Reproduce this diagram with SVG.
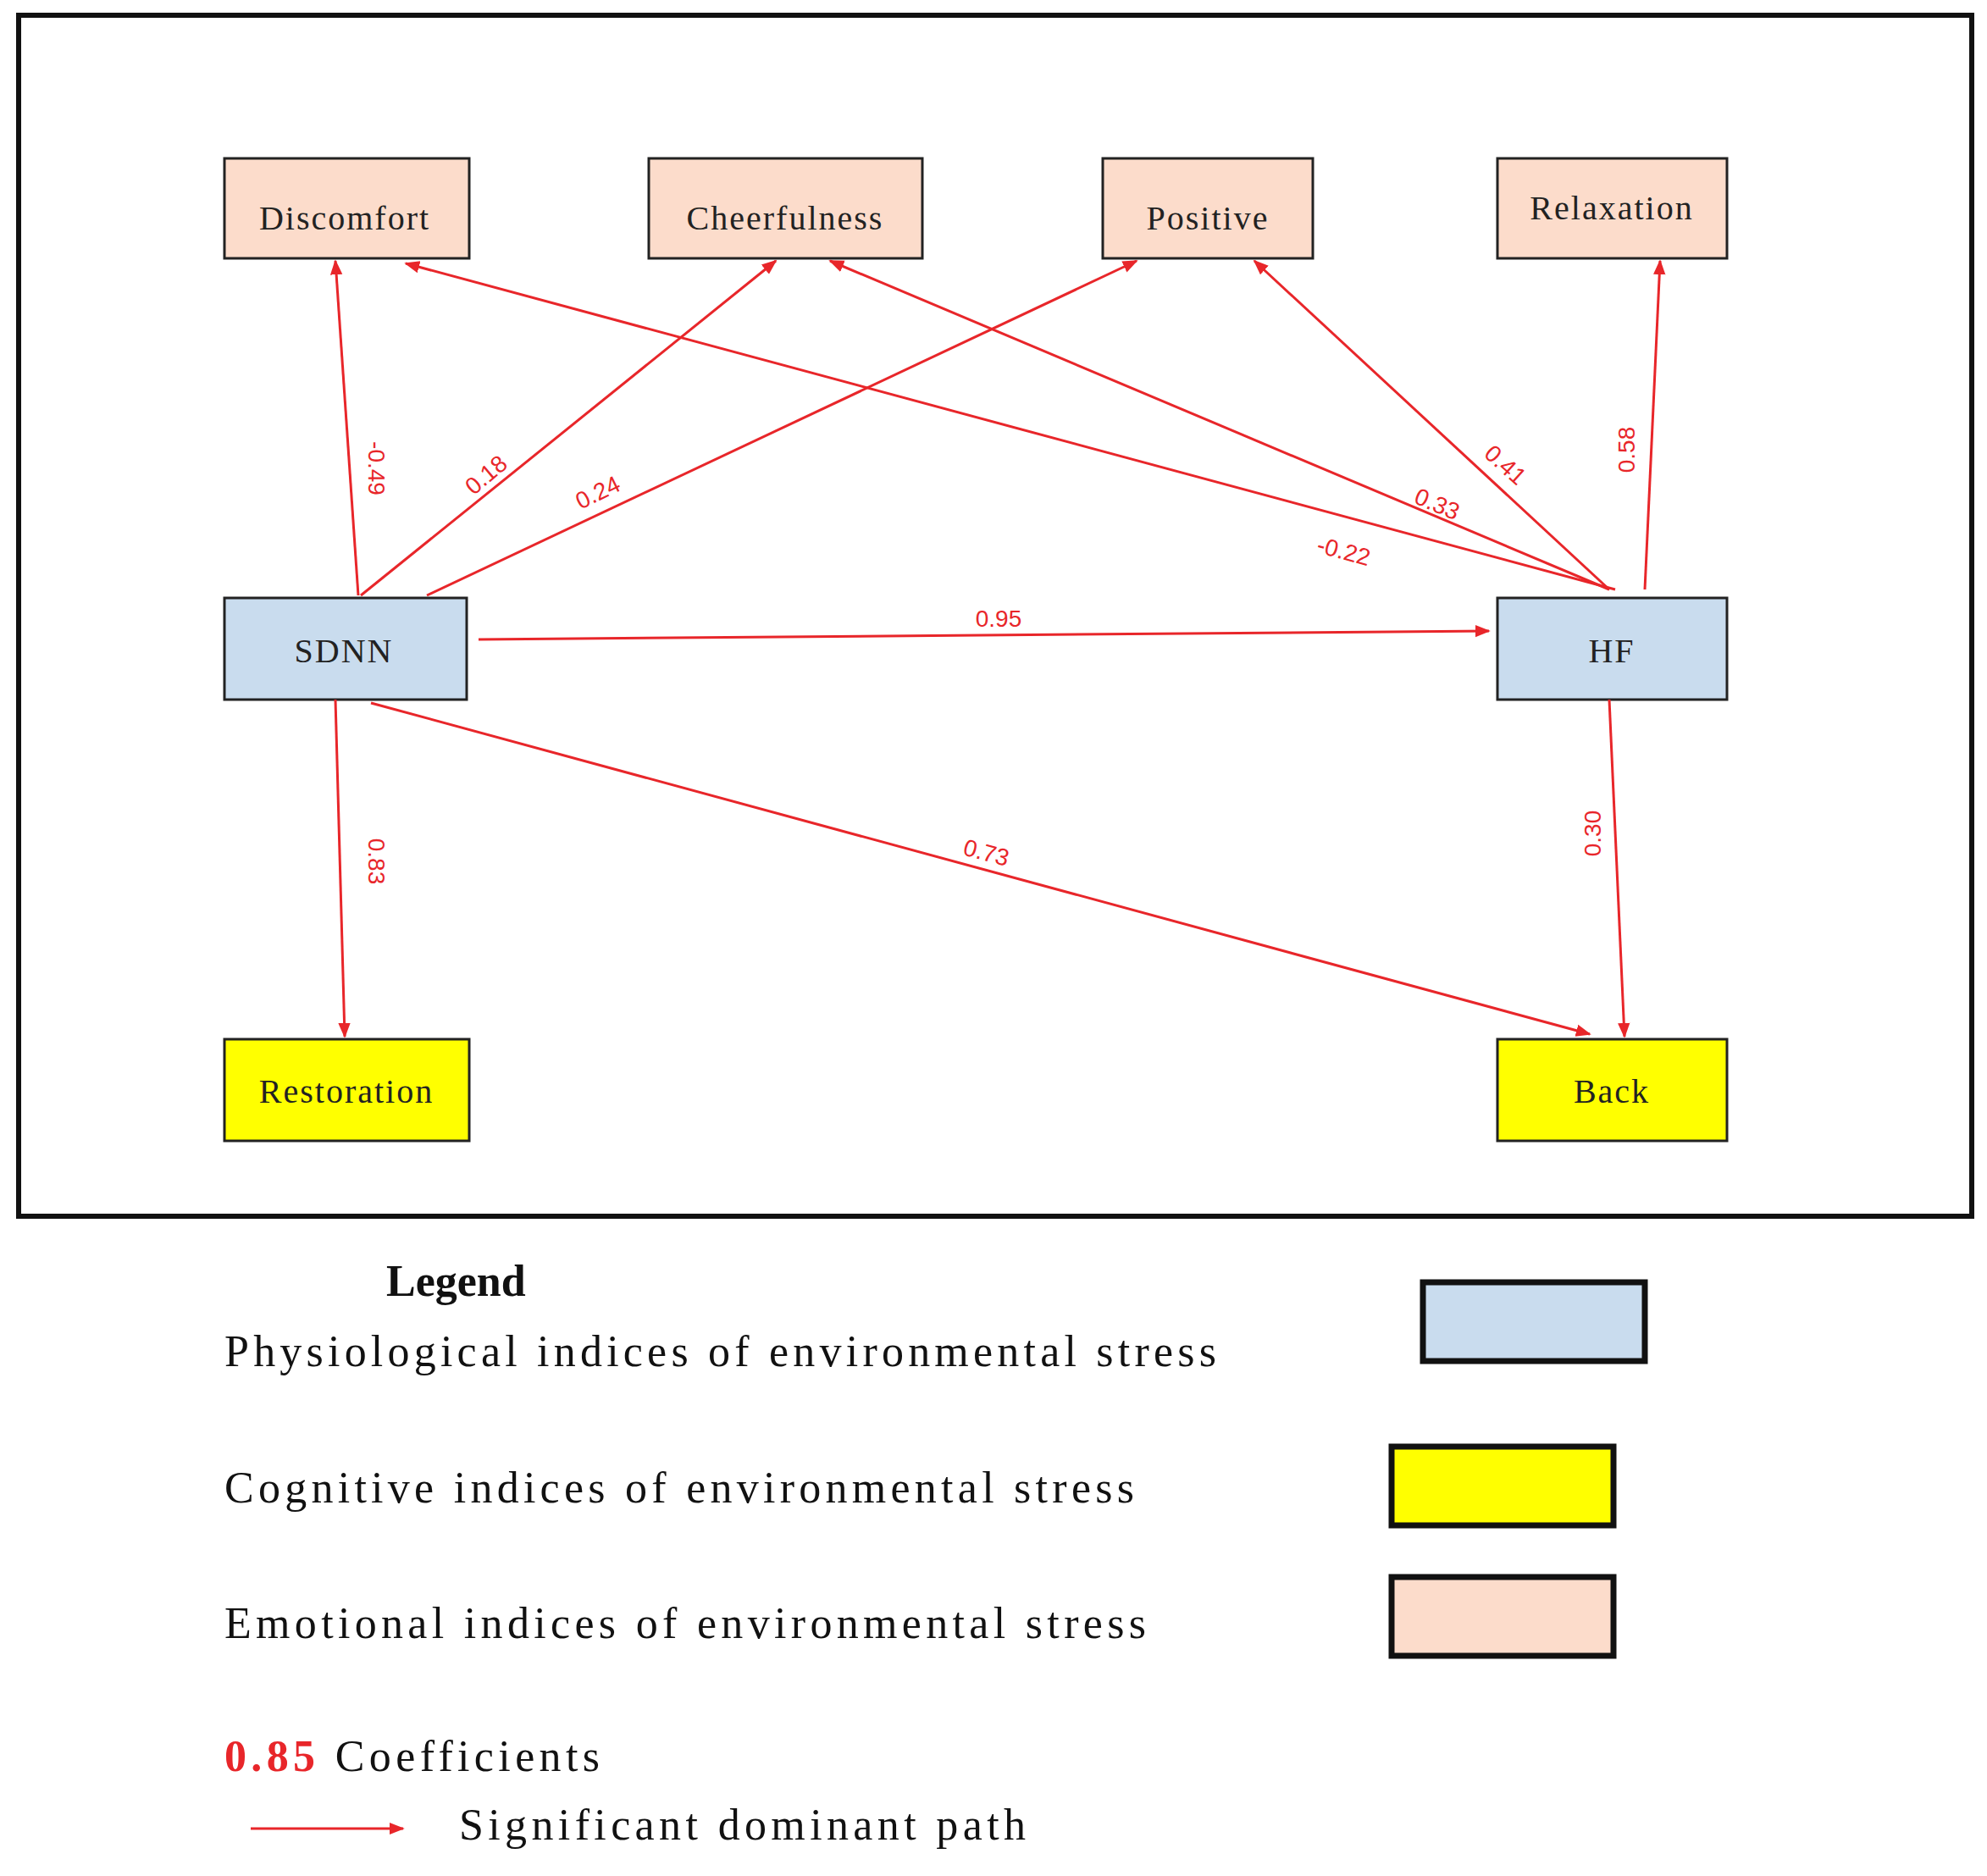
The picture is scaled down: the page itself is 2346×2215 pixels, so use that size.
<svg xmlns="http://www.w3.org/2000/svg" width="2346" height="2215" viewBox="0 0 2346 2215">
<style>
.n{stroke:#222;stroke-width:3}
.e{fill:#fcdccb}.p{fill:#c9dcee}.c{fill:#ffff00}
.nt{font-family:"Liberation Serif",serif;font-size:40px;fill:#222;text-anchor:middle;letter-spacing:2px}
.l{stroke:#e8262a;stroke-width:3;fill:none;marker-end:url(#a)}
.lb{font-family:"Liberation Sans",sans-serif;font-size:28px;fill:#e8262a;text-anchor:middle}
.lg{font-family:"Liberation Serif",serif;font-size:52px;fill:#111}
.lbx{stroke:#111;stroke-width:7}
</style>
<defs><marker id="a" viewBox="0 0 10 10" refX="9" refY="5" markerWidth="6" markerHeight="6" orient="auto" markerUnits="strokeWidth"><path d="M0,1 L10,5 L0,9 z" fill="#e8262a"/></marker></defs>
<rect width="2346" height="2215" fill="#fff"/>
<rect x="22" y="18" width="2306" height="1418" fill="none" stroke="#111" stroke-width="6"/>
<g id="discomfort"><rect class="n e" x="265" y="187" width="289" height="118"/><text class="nt" x="407" y="271">Discomfort</text></g>
<g id="cheerfulness"><rect class="n e" x="766" y="187" width="323" height="118"/><text class="nt" x="927" y="271">Cheerfulness</text></g>
<g id="positive"><rect class="n e" x="1302" y="187" width="248" height="118"/><text class="nt" x="1426" y="271">Positive</text></g>
<g id="relaxation"><rect class="n e" x="1768" y="187" width="271" height="118"/><text class="nt" x="1903" y="259">Relaxation</text></g>
<g id="sdnn"><rect class="n p" x="265" y="706" width="286" height="120"/><text class="nt" x="406" y="782">SDNN</text></g>
<g id="hf"><rect class="n p" x="1768" y="706" width="271" height="120"/><text class="nt" x="1903" y="782">HF</text></g>
<g id="restoration"><rect class="n c" x="265" y="1227" width="289" height="120"/><text class="nt" x="409" y="1302">Restoration</text></g>
<g id="back"><rect class="n c" x="1768" y="1227" width="271" height="120"/><text class="nt" x="1903" y="1302">Back</text></g>
<g id="connectors">
<line class="l" x1="423" y1="703" x2="396" y2="308"/>
<line class="l" x1="426" y1="703" x2="916" y2="308"/>
<line class="l" x1="504" y1="703" x2="1342" y2="308"/>
<line class="l" x1="1907" y1="696" x2="479" y2="311"/>
<line class="l" x1="1900" y1="696" x2="980" y2="308"/>
<line class="l" x1="1900" y1="696" x2="1481" y2="308"/>
<line class="l" x1="1942" y1="696" x2="1960" y2="308"/>
<line class="l" x1="565" y1="755" x2="1758" y2="745"/>
<line class="l" x1="396" y1="826" x2="407" y2="1224"/>
<line class="l" x1="438" y1="830" x2="1877" y2="1221"/>
<line class="l" x1="1900" y1="826" x2="1918" y2="1224"/>
<text class="lb" transform="translate(435,553) rotate(90)">-0.49</text>
<text class="lb" transform="translate(580,568) rotate(-40)">0.18</text>
<text class="lb" transform="translate(710,590) rotate(-26)">0.24</text>
<text class="lb" transform="translate(1584,660) rotate(15)">-0.22</text>
<text class="lb" transform="translate(1693,604) rotate(23)">0.33</text>
<text class="lb" transform="translate(1771,556) rotate(42)">0.41</text>
<text class="lb" transform="translate(1930,531) rotate(-90)">0.58</text>
<text class="lb" x="1179" y="740">0.95</text>
<text class="lb" transform="translate(435,1017) rotate(90)">0.83</text>
<text class="lb" transform="translate(1162,1016) rotate(15)">0.73</text>
<text class="lb" transform="translate(1890,984) rotate(-90)">0.30</text>
</g>
<g id="legend">
<text class="lg" x="456" y="1530" font-weight="bold" font-size="58">Legend</text>
<text class="lg" x="265" y="1613" textLength="1171">Physiological indices of environmental stress</text>
<text class="lg" x="265" y="1774" textLength="1074">Cognitive indices of environmental stress</text>
<text class="lg" x="265" y="1934" textLength="1088">Emotional indices of environmental stress</text>
<rect class="lbx p" x="1680" y="1514" width="262" height="93"/>
<rect class="lbx c" x="1643" y="1708" width="262" height="93"/>
<rect class="lbx e" x="1643" y="1862" width="262" height="93"/>
<text class="lg" x="265" y="2091" textLength="443"><tspan fill="#e8262a" font-weight="bold">0.85</tspan> Coefficients</text>
<line class="l" x1="296" y1="2159" x2="476" y2="2159"/>
<text class="lg" x="542" y="2172" textLength="669">Significant dominant path</text>
</g>
</svg>
